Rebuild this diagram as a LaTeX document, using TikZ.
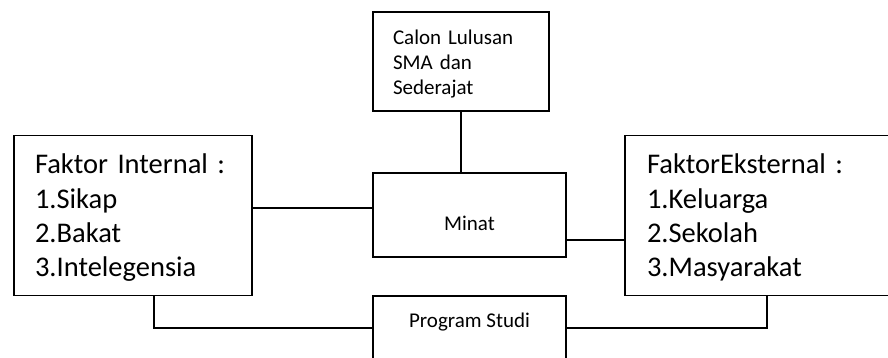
\documentclass[tikz,border=0pt]{standalone}
\usepackage{fontspec}
\setmainfont{Carlito}
\usetikzlibrary{positioning}

\begin{document}
\begin{tikzpicture}[x=1pt, y=-1pt,
		  % Define the style of the boxes
		  box/.style={rectangle, draw, line width=1.5pt},
		  % Define the style of the big list boxes
		  listbox/.style={box, align=left, anchor=base, inner ysep=0pt, inner xsep=21pt, text height=38.5pt, text depth=121.5pt, font=\fontsize{28.5}{34.3}\selectfont},
		  % Define the style of the small text
		  small/.style={font=\fontsize{21}{25}\selectfont},
		  % Define the style of the connecting lines
		  link/.style={line width=1.5pt}
		  ]

		  \useasboundingbox (0,0) rectangle (888,358);
		  \clip (0,0) rectangle (888,358);

		  % Top box
		  \node[box, small, align=left, anchor=base, inner xsep=20pt, inner ysep=0pt, text width=136pt, text height=33pt, text depth=66pt] (calon) at (461,45)
		    {Calon Lulusan\\SMA dan\\Sederajat};

		  % Middle boxes
		  \node[box, small, anchor=base, inner ysep=0pt, minimum width=193pt, text height=57pt, text depth=27pt] (minat) at (469.5,230) {Minat};
		  \node[box, small, anchor=base, inner ysep=0pt, minimum width=193pt, text height=31pt, text depth=33pt] (prodi) at (469.5,327) {Program Studi};

		  % Side boxes
		  \node[listbox, text width=196pt] (internal) at (133,174)
		    {Faktor Internal :\\1.Sikap\\2.Bakat\\3.Intelegensia};
		  \node[listbox, inner xsep=22pt, text width=240pt] (eksternal) at (767,174)
		    {FaktorEksternal :\\1.Keluarga\\2.Sekolah\\3.Masyarakat};

		  % Connect the boxes
		  \coordinate (inA) at ([yshift=7.5pt]internal.east);
		  \coordinate (miB) at ([yshift=-25pt]minat.east);
		  \draw[link] (calon.south) -- (calon.south |- minat.north);
		  \draw[link] (inA) -- (inA -| minat.west);
		  \draw[link] (miB) -- (miB -| eksternal.west);
		  \draw[link] ([xshift=21pt]internal.south) |- (prodi.west);
		  \draw[link] (prodi.east) -| (eksternal.south);
		\end{tikzpicture}
\end{document}
